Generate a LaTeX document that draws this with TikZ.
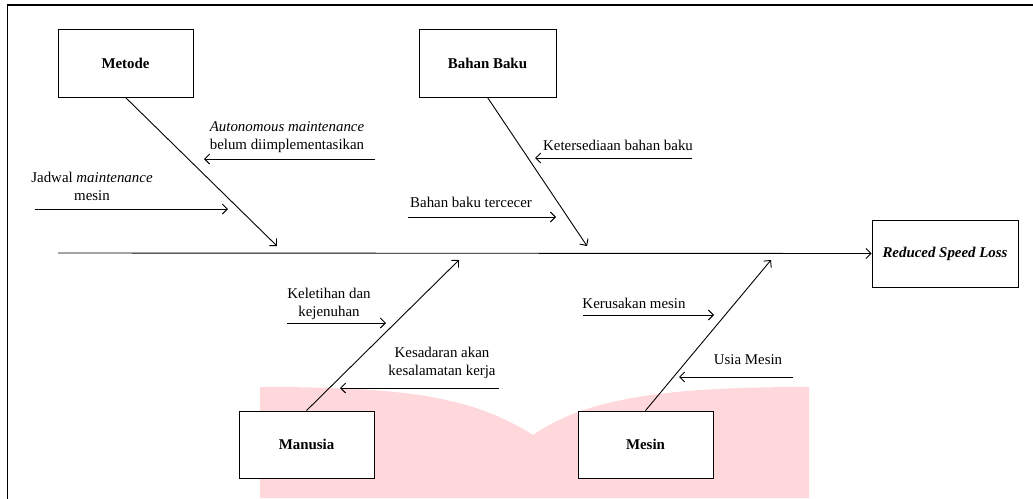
\documentclass[tikz,border=0pt]{standalone}
\usepackage{fontspec}
\setmainfont{Liberation Serif}
\usetikzlibrary{arrows.meta}
\definecolor{wmpink}{RGB}{255,216,219}
\begin{document}
\begin{tikzpicture}[x=1pt,y=-1pt,
  every node/.style={font=\fontsize{14.9}{18}\selectfont},
  catbox/.style={draw,line width=0.9pt,font=\fontsize{14.9}{18}\selectfont\bfseries,inner sep=0pt},
  bone/.style={line width=0.9pt,-{Straight Barb[length=5pt,width=10pt]}},
  cause/.style={align=center,inner sep=0pt}]
\useasboundingbox (0,0) rectangle (1033,498);
\fill[white] (0,0) rectangle (1033,498);
% watermark
\fill[wmpink] (260,498) -- (260,387) .. controls (400,387) and (470,395) .. (533,435)
  .. controls (590,395) and (680,387) .. (809,387) -- (809,498) -- cycle;
% frame
\draw[line width=1.4pt] (7,5) -- (1036,5);
\draw[line width=1pt] (7,5) -- (7,500);
% boxes
\node[catbox,fill=white,minimum width=135pt,minimum height=68pt] (metode) at (125.5,63) {Metode};
\node[catbox,fill=white,minimum width=137pt,minimum height=68pt] (bahan) at (487.5,63) {Bahan Baku};
\node[catbox,fill=white,minimum width=146pt,minimum height=67pt] (rsl) at (945,253.5) {\itshape Reduced Speed Loss};
\node[catbox,fill=white,minimum width=135pt,minimum height=67pt] (manusia) at (306.5,444.5) {Manusia};
\node[catbox,fill=white,minimum width=135pt,minimum height=67pt] (mesin) at (645.5,444.5) {Mesin};
% spine
\coordinate (spinestart) at (58,253);
\draw[bone] (spinestart) -- (rsl.west);
% bones
\coordinate (mt) at (277,246);
\coordinate (bt) at (587,246);
\coordinate (mnt) at (459,260);
\coordinate (mst) at (771,260);
\draw[bone] (metode.south) -- (mt);
\draw[bone] (bahan.south) -- (bt);
\draw[bone] (manusia.north) -- (mnt);
\draw[bone] (mesin.north) -- (mst);
% causes
\coordinate (a1s) at (375,159); \coordinate (a1e) at (204,159);
\draw[bone] (a1s) -- (a1e);
\node[cause] (l1) at (287,137) {\itshape Autonomous maintenance\\belum diimplementasikan};
\coordinate (a2s) at (35,209); \coordinate (a2e) at (228,209);
\draw[bone] (a2s) -- (a2e);
\node[cause] (l2) at (92,186) {Jadwal \textit{maintenance}\\mesin};
\coordinate (a3s) at (692,158); \coordinate (a3e) at (535,158);
\draw[bone] (a3s) -- (a3e);
\node[cause] (l3) at (618,145) {Ketersediaan bahan baku};
\coordinate (a4s) at (408,217); \coordinate (a4e) at (556,217);
\draw[bone] (a4s) -- (a4e);
\node[cause] (l4) at (471,202) {Bahan baku tercecer};
\coordinate (a5s) at (287,323); \coordinate (a5e) at (386,323);
\draw[bone] (a5s) -- (a5e);
\node[cause] (l5) at (329,304) {Keletihan dan\\kejenuhan};
\coordinate (a6s) at (499,388); \coordinate (a6e) at (340,388);
\draw[bone] (a6s) -- (a6e);
\node[cause] (l6) at (442,363) {Kesadaran akan\\kesalamatan kerja};
\coordinate (a7s) at (583,315); \coordinate (a7e) at (714,315);
\draw[bone] (a7s) -- (a7e);
\node[cause] (l7) at (634,303) {Kerusakan mesin};
\coordinate (a8s) at (793,377); \coordinate (a8e) at (679,377);
\draw[bone] (a8s) -- (a8e);
\node[cause] (l8) at (748,360) {Usia Mesin};
\end{tikzpicture}
\end{document}
